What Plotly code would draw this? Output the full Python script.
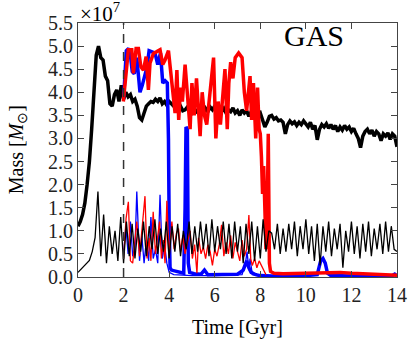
import numpy as np
import plotly.graph_objects as go

# ---------------- data (units of 1e7 Msun, time in Gyr) ----------------
# total gas (thick black), sampled every 0.1 Gyr from 0 to 14
t_black_thick = np.round(np.arange(0, 14.0001, 0.1), 3)
m_black_thick = [
    1.10, 1.20, 1.35, 1.60, 2.00, 2.50, 3.20, 4.10, 4.80, 5.00,
    4.75, 4.70, 4.35, 4.25, 3.75, 3.70, 3.95, 4.05, 3.80, 4.15,
    3.85, 4.00, 3.90, 3.95, 3.80, 3.85, 3.70, 3.45, 3.40, 3.55,
    3.70, 3.75, 3.80, 3.78, 3.85, 3.80, 3.88, 3.75, 3.80, 3.72,
    3.80, 3.75, 3.70, 3.72, 3.65, 3.70, 3.60, 3.62, 3.68, 3.60,
    3.55, 3.62, 3.58, 3.65, 3.60, 3.55, 3.65, 3.58, 3.68, 3.62,
    3.70, 3.62, 3.66, 3.58, 3.65, 3.55, 3.62, 3.58, 3.66, 3.55,
    3.60, 3.50, 3.62, 3.55, 3.60, 3.48, 3.58, 3.52, 3.60, 3.50,
    3.55, 3.40, 3.25, 3.35, 3.48, 3.50, 3.42, 3.45, 3.38, 3.40,
    3.35, 3.10, 3.30, 3.38, 3.32, 3.36, 3.28, 3.35, 3.30, 3.38,
    3.30, 3.25, 3.35, 3.20, 3.28, 2.97, 3.20, 3.30, 3.25, 3.32,
    3.22, 3.30, 3.20, 3.28, 3.15, 3.25, 3.18, 3.28, 3.20, 3.25,
    3.15, 3.22, 3.10, 3.00, 2.80, 3.05, 3.15, 3.20, 3.10, 3.18,
    3.05, 3.15, 3.10, 2.95, 3.10, 3.05, 3.12, 2.98, 3.10, 3.05,
    2.82,
]

# thin black, sampled every 0.125 Gyr
t_black_thin = np.round(np.arange(0, 14.0001, 0.125), 3)
m_black_thin = [
    0.10, 0.16, 0.22, 0.28, 0.36, 0.55, 0.85, 1.85, 0.45, 1.35,
    0.30, 1.10, 0.50, 1.00, 0.35, 1.30, 0.30, 1.20, 0.45, 1.15,
    0.40, 1.05, 0.55, 1.20, 0.45, 1.10, 0.60, 1.25, 0.50, 1.05,
    0.55, 1.20, 0.40, 1.10, 0.55, 1.15, 0.45, 1.00, 0.60, 1.20,
    0.50, 1.10, 0.55, 1.20, 0.60, 1.15, 0.45, 1.25, 0.55, 1.10,
    0.60, 1.20, 0.50, 1.15, 0.40, 1.20, 0.55, 1.10, 0.30, 1.15,
    0.50, 1.20, 0.35, 1.10, 0.40, 1.25, 0.55, 1.00, 0.95, 0.60,
    1.15, 0.50, 1.05, 0.55, 1.15, 0.60, 1.20, 0.45, 1.10, 0.60,
    1.25, 0.50, 1.10, 0.35, 1.15, 0.25, 1.10, 0.55, 1.20, 0.45,
    1.05, 0.60, 1.15, 0.20, 1.00, 0.55, 1.20, 0.50, 1.10, 0.40,
    1.15, 0.55, 1.20, 0.45, 1.05, 0.60, 1.15, 0.50, 1.20, 0.55,
    1.10, 0.60, 0.55,
]

# thick blue
t_blue_thick = [2.00, 2.05, 2.12, 2.22, 2.30, 2.38, 2.47, 2.58, 2.72, 2.82,
                2.93, 3.03, 3.12, 3.25, 3.38, 3.50, 3.62, 3.72, 3.82, 3.92,
                3.97, 4.00, 4.04, 4.10, 4.30, 4.50, 4.64, 4.70, 4.74, 4.80,
                4.84, 4.90, 5.10, 5.40, 5.55, 5.70, 6.00, 6.50, 7.00, 7.25,
                7.40, 7.50, 7.60, 7.80, 8.00, 8.50, 9.00, 10.00, 10.50, 10.65,
                10.75, 10.85, 10.95, 11.10, 12.00, 13.00, 13.80, 13.90, 14.00]
m_blue_thick = [3.85, 4.30, 4.90, 4.95, 4.80, 4.45, 4.40, 4.75, 4.00, 4.15,
                4.40, 4.55, 4.90, 4.88, 4.85, 4.60, 4.85, 4.20, 4.25, 4.20,
                3.00, 1.20, 0.20, 0.15, 0.12, 0.10, 0.08, 1.50, 3.25, 3.20,
                0.30, 0.10, 0.07, 0.06, 0.15, 0.05, 0.05, 0.05, 0.06, 0.15,
                0.35, 0.20, 0.10, 0.05, 0.03, 0.02, 0.02, 0.03, 0.05, 0.35,
                0.40, 0.30, 0.08, 0.03, 0.02, 0.02, 0.03, 0.06, 0.02]

# thin blue
t_blue_thin = [2.00, 2.10, 2.20, 2.30, 2.40, 2.50, 2.58, 2.70, 2.80, 2.90,
               3.00, 3.10, 3.20, 3.30, 3.40, 3.50, 3.60, 3.70, 3.80, 3.90,
               4.00, 4.20, 5.00, 6.00, 7.20, 7.35, 7.42, 7.50, 7.55, 7.65,
               8.00, 8.50]
m_blue_thin = [0.50, 1.10, 0.50, 1.20, 0.45, 0.60, 1.85, 0.35, 0.90, 0.30,
               0.80, 0.35, 1.30, 0.40, 0.60, 0.30, 1.78, 0.40, 0.70, 0.30,
               0.10, 0.05, 0.03, 0.03, 0.05, 0.30, 0.55, 0.15, 0.40, 0.05,
               0.02, 0.02]

# thick red
t_red_thick = [1.99, 2.14, 2.21, 2.36, 2.43, 2.55, 2.65, 2.76, 2.87, 2.99,
               3.09, 3.16, 3.31, 3.46, 3.60, 3.72, 3.82, 3.97, 4.05, 4.16,
               4.26, 4.34, 4.42, 4.50, 4.58, 4.70, 4.82, 4.92, 5.00, 5.10,
               5.20, 5.26, 5.36, 5.45, 5.55, 5.65, 5.80, 5.95, 6.05, 6.15,
               6.25, 6.35, 6.45, 6.55, 6.62, 6.70, 6.80, 6.90, 7.05, 7.20,
               7.30, 7.40, 7.55, 7.62, 7.70, 7.80, 7.88, 7.95,
               8.00, 8.05, 8.10, 8.15, 8.20, 8.25, 8.30, 8.35, 8.40, 8.45,
               8.60, 9.00, 10.00, 11.00, 11.50, 12.00, 13.00, 14.00]
m_red_thick = [3.80, 4.55, 4.92, 4.92, 4.41, 4.95, 4.95, 4.55, 4.48, 4.77,
               4.05, 4.63, 4.84, 4.88, 4.92, 4.60, 4.70, 4.90, 4.50, 3.90,
               3.55, 4.48, 3.40, 4.10, 3.80, 4.60, 3.90, 3.20, 4.20, 3.50,
               4.30, 3.80, 3.05, 4.00, 3.50, 3.30, 4.10, 4.75, 3.00, 3.80,
               3.30, 3.90, 4.50, 3.20, 4.20, 4.65, 4.30, 4.75, 4.85, 4.75,
               4.00, 3.60, 4.35, 3.40, 4.20, 3.00, 4.10, 3.20,
               3.10, 2.60, 1.80, 2.40, 1.30, 0.60, 1.20, 3.10, 0.30, 0.12,
               0.08, 0.07, 0.08, 0.10, 0.10, 0.08, 0.06, 0.04]

# thin red
t_red_thin = [2.00, 2.11, 2.21, 2.30, 2.40, 2.50, 2.58, 2.70, 2.80, 2.94,
              3.03, 3.12, 3.20, 3.30, 3.40, 3.50, 3.58, 3.66, 3.75, 3.82,
              3.90, 4.00, 4.12, 4.22, 4.32, 4.41, 4.50, 4.60, 4.70, 4.80,
              4.92, 5.02, 5.12, 5.22, 5.29, 5.40, 5.50, 5.60, 5.70, 5.80,
              5.90, 6.00, 6.10, 6.20, 6.30, 6.40, 6.50, 6.60, 6.70, 6.80,
              6.90, 7.00, 7.10, 7.20, 7.30, 7.40, 7.50, 7.58, 7.65, 7.75,
              7.85, 7.95, 8.05, 8.15, 8.25]
m_red_thin = [0.40, 1.27, 1.63, 0.35, 0.30, 0.85, 1.20, 0.45, 0.95, 1.75,
              0.40, 0.85, 0.35, 1.41, 0.50, 0.90, 1.20, 0.40, 0.80, 0.30,
              1.65, 0.45, 1.20, 0.60, 0.95, 1.05, 0.55, 0.90, 0.50, 0.75,
              1.00, 0.40, 0.70, 0.08, 0.85, 0.50, 0.65, 0.40, 0.70, 0.55,
              0.25, 0.60, 0.45, 0.70, 1.13, 0.45, 0.75, 0.50, 0.90, 0.40,
              0.75, 0.55, 0.35, 0.80, 0.45, 0.60, 1.34, 0.40, 0.25, 0.40,
              0.20, 0.35, 0.25, 0.15, 0.05]

SCALE = 1e7
x_ticks = [0, 2, 4, 6, 8, 10, 12, 14]
y_ticks = [0.0, 0.5, 1.0, 1.5, 2.0, 2.5, 3.0, 3.5, 4.0, 4.5, 5.0, 5.5]
y_tick_text = ["%.1f" % v for v in y_ticks]
t_start = 2.0

FONT = "Liberation Serif, Times New Roman, serif"

fig = go.Figure()

def add(t, m, color, width):
    fig.add_trace(go.Scatter(x=list(t), y=[v * SCALE for v in m], mode="lines",
                             line=dict(color=color, width=width),
                             showlegend=False, hoverinfo="skip"))

add(t_black_thick, m_black_thick, "black", 3.5)
add(t_blue_thick, m_blue_thick, "#0000ff", 3.5)
add(t_red_thick, m_red_thick, "#ff0000", 3.5)
add(t_blue_thin, m_blue_thin, "#0000ff", 1.3)
add(t_red_thin, m_red_thin, "#ff0000", 1.3)
add(t_black_thin, m_black_thin, "black", 1.3)

fig.add_shape(type="line", x0=t_start, x1=t_start, y0=0, y1=1, yref="paper",
              line=dict(color="#333333", width=1.5, dash="dash"))

axis_common = dict(showline=True, linecolor="#444444", linewidth=1, mirror="allticks",
                   ticks="inside", ticklen=6, tickcolor="#444444", tickwidth=1,
                   showgrid=False, zeroline=False, automargin=False,
                   tickfont=dict(family=FONT, size=20, color="#222222"))

fig.update_xaxes(range=[0, 14], tickvals=x_ticks, ticktext=[str(v) for v in x_ticks],
                 **axis_common)
fig.update_yaxes(range=[0, 5.5 * SCALE], tickvals=[v * SCALE for v in y_ticks],
                 ticktext=y_tick_text, **axis_common)

fig.add_annotation(text="GAS", xref="paper", yref="paper", x=0.74, y=0.95,
                   xanchor="center", yanchor="middle", showarrow=False,
                   font=dict(family=FONT, size=30, color="black"))
fig.add_annotation(text="×10<sup>7</sup>", xref="paper", yref="paper", x=0.0, y=1.0,
                   xanchor="left", yanchor="bottom", showarrow=False, yshift=-5,
                   font=dict(family=FONT, size=21, color="black"))
fig.add_annotation(text="Time [Gyr]", xref="paper", yref="paper", x=0.5, y=-0.2,
                   xanchor="center", yanchor="middle", showarrow=False,
                   font=dict(family=FONT, size=20, color="black"))
fig.add_annotation(text="Mass [<i>M</i><sub>⊙</sub>]", xref="paper", yref="paper",
                   x=-0.236, y=0.5, textangle=-90, xanchor="left", yanchor="middle",
                   showarrow=False, font=dict(family=FONT, size=20, color="black"))

fig.update_layout(width=411, height=347, margin=dict(l=78, r=14, t=23, b=70),
                  plot_bgcolor="white", paper_bgcolor="white")

# remove the browser's default 8px body margin so the figure fills the window
fig.write_html("out.html", config={"displayModeBar": False},
               post_script="document.body.style.margin='0px';")
